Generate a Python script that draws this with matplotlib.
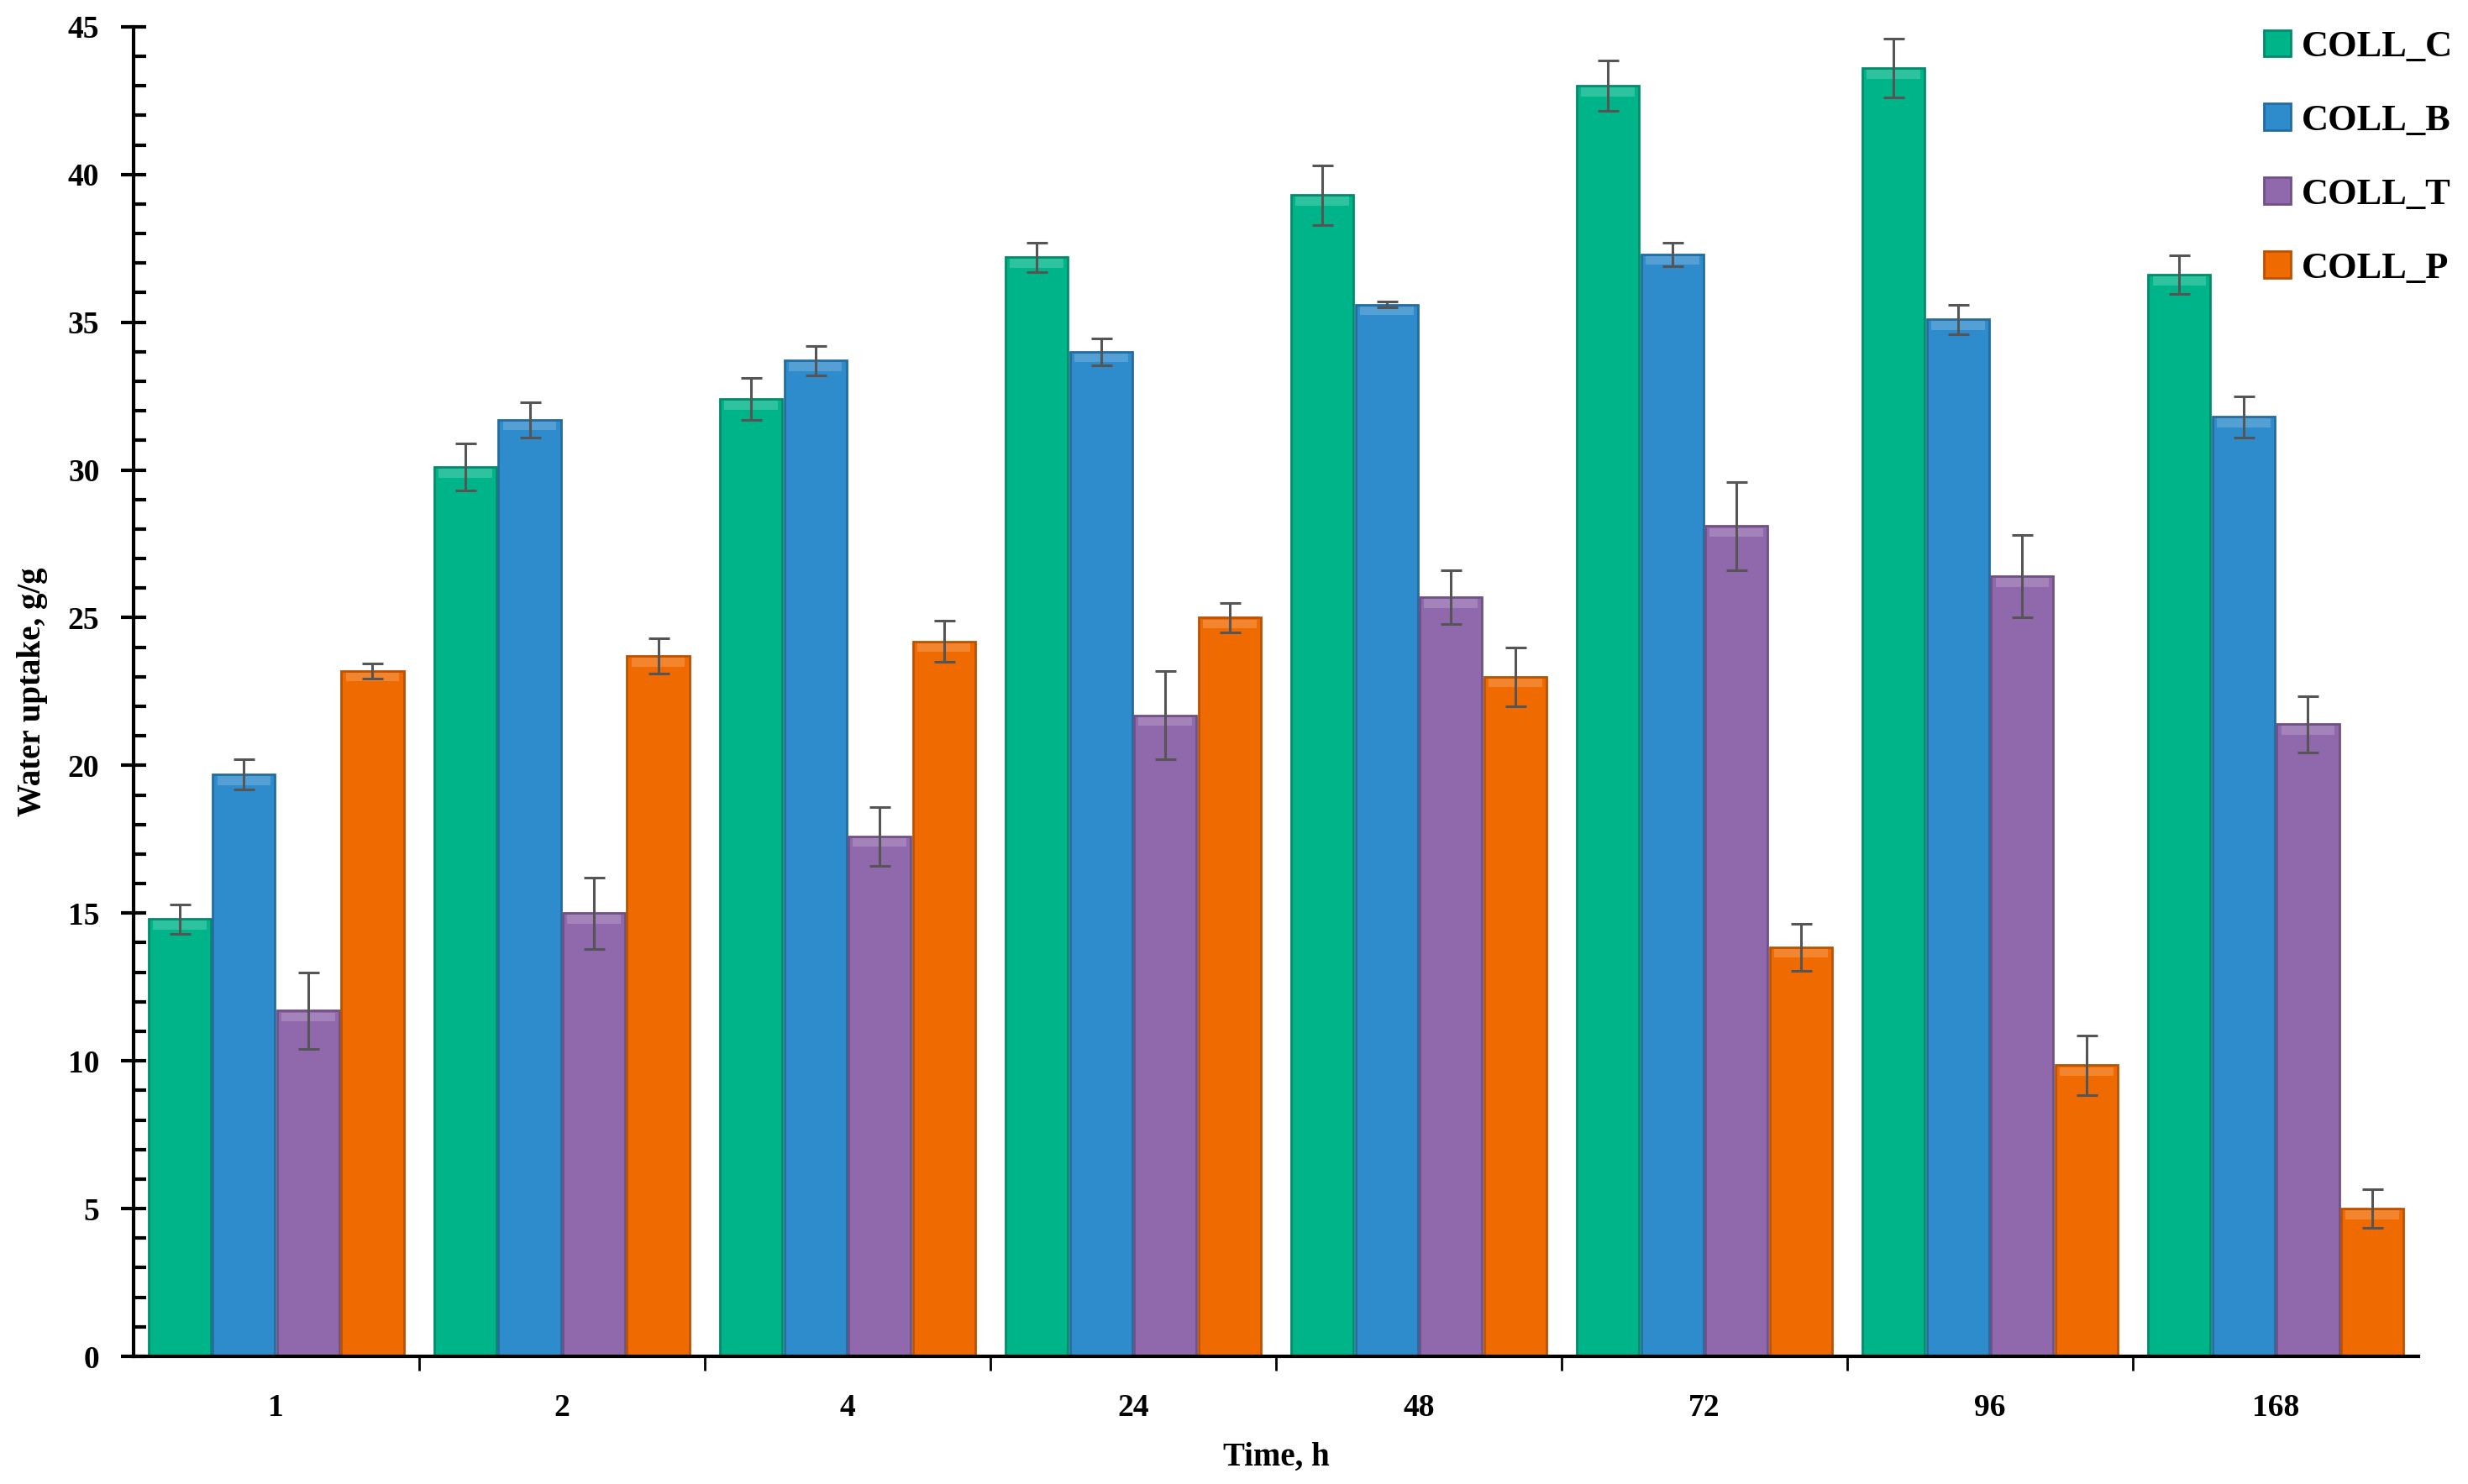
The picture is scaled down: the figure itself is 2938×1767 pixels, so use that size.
import numpy as np
import matplotlib
matplotlib.use("Agg")
import matplotlib.pyplot as plt
from matplotlib.ticker import MultipleLocator, FixedLocator
from matplotlib.patches import Patch
import matplotlib.colors as mcolors

times = ["1", "2", "4", "24", "48", "72", "96", "168"]
series_names = ["COLL_C", "COLL_B", "COLL_T", "COLL_P"]
coll_c = [14.8, 30.1, 32.4, 37.2, 39.3, 43.0, 43.6, 36.6]
coll_c_err = [0.5, 0.8, 0.7, 0.5, 1.0, 0.85, 1.0, 0.65]
coll_b = [19.7, 31.7, 33.7, 34.0, 35.6, 37.3, 35.1, 31.8]
coll_b_err = [0.5, 0.6, 0.5, 0.45, 0.1, 0.4, 0.5, 0.7]
coll_t = [11.7, 15.0, 17.6, 21.7, 25.7, 28.1, 26.4, 21.4]
coll_t_err = [1.3, 1.2, 1.0, 1.5, 0.9, 1.5, 1.4, 0.95]
coll_p = [23.2, 23.7, 24.2, 25.0, 23.0, 13.85, 9.85, 5.0]
coll_p_err = [0.25, 0.6, 0.7, 0.5, 1.0, 0.8, 1.0, 0.65]
colors = ["#00B48A", "#2E8BCC", "#9068AC", "#EF6A00"]

values = [coll_c, coll_b, coll_t, coll_p]
errors = [coll_c_err, coll_b_err, coll_t_err, coll_p_err]

plt.rcParams['font.family'] = ['Liberation Serif', 'DejaVu Serif']
plt.rcParams['font.weight'] = 'bold'

fig = plt.figure(figsize=(29.38, 17.67), dpi=100)
ax = fig.add_axes([0.054, 0.086, 0.926, 0.896])

x = np.arange(len(times))
step = 0.225
width = 0.218

def shade(c, f):
    r, g, b = mcolors.to_rgb(c)
    if f < 1:
        return (r * f, g * f, b * f)
    return (r + (1 - r) * (f - 1), g + (1 - g) * (f - 1), b + (1 - b) * (f - 1))

for i, (vals, errs, col) in enumerate(zip(values, errors, colors)):
    pos = x + (i - 1.5) * step
    ax.bar(pos, vals, width=width, color=col, edgecolor=shade(col, 0.78),
           linewidth=2.0, zorder=2)
    # subtle bevel highlight on top
    ax.bar(pos, [0.3] * len(vals), bottom=np.array(vals) - 0.36, width=width * 0.86,
           color=shade(col, 1.18), linewidth=0, zorder=3)
    ax.errorbar(pos, vals, yerr=errs, fmt='none', ecolor='#555555',
                elinewidth=2.2, capsize=9, capthick=2.2, zorder=4)

ax.set_xlim(-0.5, len(times) - 0.5)
ax.set_ylim(0, 45)

ax.spines['top'].set_visible(False)
ax.spines['right'].set_visible(False)
ax.spines['left'].set_linewidth(3)
ax.spines['bottom'].set_linewidth(3)
ax.spines['left'].set_zorder(5)
ax.spines['bottom'].set_zorder(5)

ax.yaxis.set_major_locator(MultipleLocator(5))
ax.yaxis.set_minor_locator(MultipleLocator(1))
ax.tick_params(axis='y', which='major', direction='inout', length=22, width=3,
               labelsize=27, pad=18)
ax.tick_params(axis='y', which='minor', direction='in', length=11, width=3)

ax.set_xticks(x)
ax.set_xticklabels(times)
ax.xaxis.set_minor_locator(FixedLocator(np.arange(0.5, len(times) - 0.5, 1.0)))
ax.tick_params(axis='x', which='major', length=0, labelsize=27, pad=32)
ax.tick_params(axis='x', which='minor', direction='out', length=12, width=2)

for lbl in ax.get_xticklabels() + ax.get_yticklabels():
    lbl.set_fontweight('bold')

ax.set_xlabel("Time, h", fontsize=28, fontweight='bold', labelpad=16)
ax.set_ylabel("Water uptake, g/g", fontsize=28, fontweight='bold', labelpad=17)

handles = [Patch(facecolor=c, edgecolor=shade(c, 0.78), linewidth=2) for c in colors]
fig.legend(handles, series_names, loc='upper right', bbox_to_anchor=(1.003, 0.995),
           frameon=False, prop={'size': 32, 'weight': 'bold'},
           handlelength=0.72, handleheight=0.72, handletextpad=0.3,
           labelspacing=1.07, borderaxespad=0.2)

fig.savefig("out.png", dpi=100, facecolor='white')
